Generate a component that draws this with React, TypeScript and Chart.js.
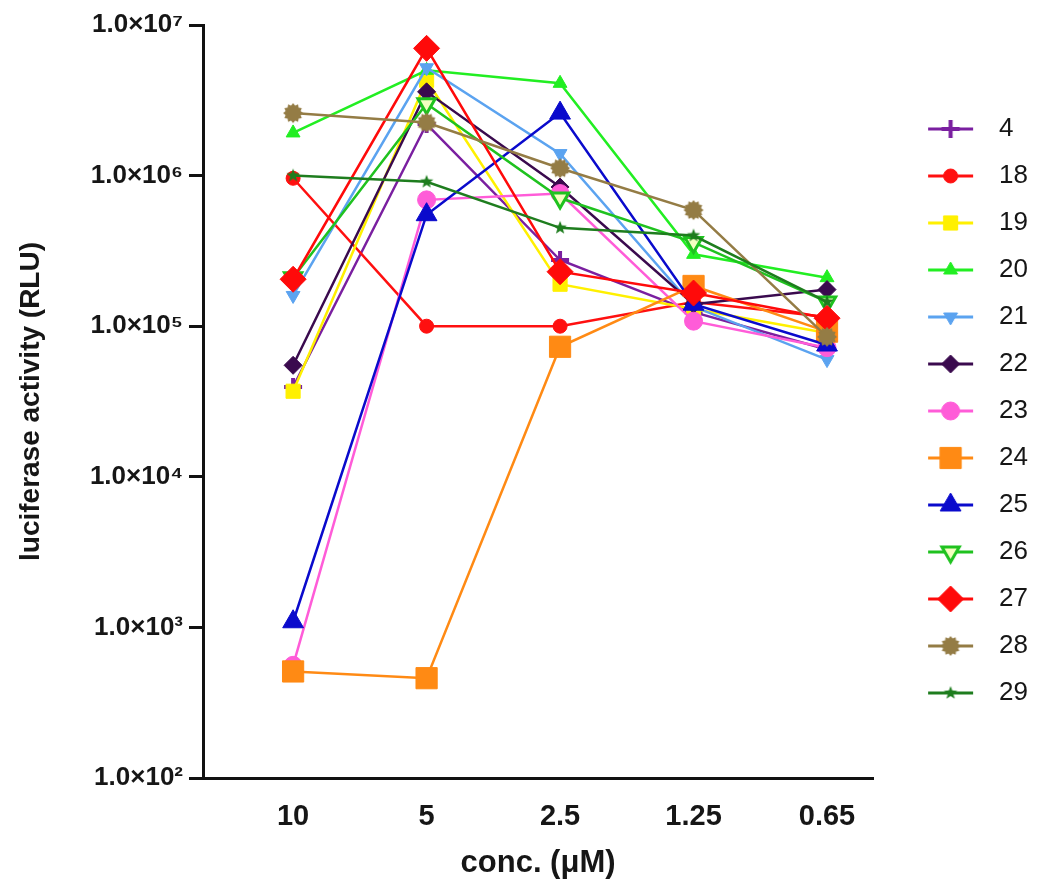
import React, { useEffect, useRef } from 'react';
import { Chart, registerables } from 'chart.js';
import { drawPoint } from 'chart.js/helpers';

Chart.register(...registerables);

// ---- data ----
const concentrations = ['10', '5', '2.5', '1.25', '0.65'];
const yTickValues = [1e2, 1e3, 1e4, 1e5, 1e6, 1e7];
const seriesNames = ['4', '18', '19', '20', '21', '22', '23', '24', '25', '26', '27', '28', '29'];

const compound4 = [3.95e4, 2.2e6, 2.75e5, 1.24e5, 7.0e4];
const compound18 = [9.6e5, 1.0e5, 1.0e5, 1.45e5, 1.15e5];
const compound19 = [3.7e4, 4.3e6, 1.9e5, 1.3e5, 9.0e4];
const compound20 = [1.92e6, 5.0e6, 4.1e6, 3.0e5, 2.1e5];
const compound21 = [1.6e5, 5.2e6, 1.4e6, 1.35e5, 6.0e4];
const compound22 = [5.5e4, 3.6e6, 8.4e5, 1.4e5, 1.75e5];
const compound23 = [5.6e2, 6.9e5, 7.6e5, 1.08e5, 7.2e4];
const compound24 = [5.1e2, 4.6e2, 7.3e4, 1.85e5, 9.2e4];
const compound25 = [1.09e3, 5.5e5, 2.6e6, 1.4e5, 7.5e4];
const compound26 = [2.1e5, 3.0e6, 7.1e5, 3.6e5, 1.45e5];
const compound27 = [2.05e5, 7.0e6, 2.3e5, 1.66e5, 1.13e5];
const compound28 = [2.6e6, 2.25e6, 1.12e6, 5.9e5, 8.5e4];
const compound29 = [1.0e6, 9.1e5, 4.5e5, 4.0e5, 1.45e5];

const seriesValues = [
  compound4, compound18, compound19, compound20, compound21, compound22, compound23,
  compound24, compound25, compound26, compound27, compound28, compound29,
];

// ---- styles ----
const seriesColors = [
  '#7A1FA0', '#FF1010', '#FFF000', '#22EE22', '#5BA3F0', '#3A0A4E', '#FF5CD8',
  '#FF8A14', '#0A0ACC', '#1FC21F', '#FF0A0A', '#947C45', '#1E7D1E',
];

type MarkerSpec = { style: string; radius: number; bw: number; rot: number; fill?: string };
const markerSpecs: MarkerSpec[] = [
  { style: 'cross', radius: 9, bw: 4, rot: 0 },
  { style: 'circle', radius: 7, bw: 1, rot: 0 },
  { style: 'rect', radius: 10, bw: 1, rot: 0 },
  { style: 'triangle', radius: 8, bw: 1, rot: 0 },
  { style: 'triangle', radius: 8, bw: 1, rot: 180 },
  { style: 'rectRot', radius: 9, bw: 1, rot: 0 },
  { style: 'circle', radius: 9, bw: 1, rot: 0 },
  { style: 'rect', radius: 15, bw: 1, rot: 0 },
  { style: 'triangle', radius: 12, bw: 1, rot: 0 },
  { style: 'triangle', radius: 10, bw: 3, rot: 180, fill: '#F4FFC0' },
  { style: 'rectRot', radius: 13, bw: 1, rot: 0 },
  { style: 'gear', radius: 10, bw: 0, rot: 0 },
  { style: 'star5', radius: 7, bw: 0, rot: 0 },
];

const FONT = '"Liberation Sans", Arial, sans-serif';
const TEXT = '#161616';
const SUP: Record<number, string> = { 2: '²', 3: '³', 4: '⁴', 5: '⁵', 6: '⁶', 7: '⁷' };

function makeStarCanvas(n: number, outer: number, inner: number, color: string) {
  const size = Math.ceil(outer * 2 + 4);
  const c = document.createElement('canvas');
  c.width = size;
  c.height = size;
  const ctx = c.getContext('2d')!;
  const cx = size / 2;
  ctx.beginPath();
  for (let k = 0; k < n * 2; k++) {
    const r = k % 2 === 0 ? outer : inner;
    const a = -Math.PI / 2 + (k * Math.PI) / n;
    const px = cx + r * Math.cos(a);
    const py = cx + r * Math.sin(a);
    if (k === 0) ctx.moveTo(px, py);
    else ctx.lineTo(px, py);
  }
  ctx.closePath();
  ctx.fillStyle = color;
  ctx.fill();
  return c;
}

function pointStyleFor(i: number): any {
  const m = markerSpecs[i];
  if (m.style === 'gear') return makeStarCanvas(12, m.radius, m.radius * 0.78, seriesColors[i]);
  if (m.style === 'star5') return makeStarCanvas(5, m.radius, m.radius * 0.42, seriesColors[i]);
  return m.style;
}

function makeLegendImage(i: number, ps: any) {
  const m = markerSpecs[i];
  const c = document.createElement('canvas');
  c.width = 92;
  c.height = 30;
  const ctx = c.getContext('2d')!;
  ctx.strokeStyle = seriesColors[i];
  ctx.lineWidth = 3;
  ctx.beginPath();
  ctx.moveTo(34, 15);
  ctx.lineTo(79, 15);
  ctx.stroke();
  ctx.fillStyle = m.fill || seriesColors[i];
  ctx.strokeStyle = seriesColors[i];
  ctx.lineWidth = m.bw;
  drawPoint(ctx, { pointStyle: ps, rotation: m.rot, radius: m.radius, borderWidth: m.bw } as any, 56.5, 15);
  return c;
}

export default function App() {
  const canvasRef = useRef<HTMLCanvasElement | null>(null);

  useEffect(() => {
    const canvas = canvasRef.current;
    if (!canvas) return;
    const styles = seriesValues.map((_, i) => pointStyleFor(i));
    const legendImages = seriesValues.map((_, i) => makeLegendImage(i, styles[i]));

    const datasets = seriesValues.map((vals, i) => ({
      label: seriesNames[i],
      data: vals.map((v, k) => ({ x: k, y: v })),
      borderColor: seriesColors[i],
      backgroundColor: seriesColors[i],
      borderWidth: 2.5,
      pointStyle: styles[i],
      pointRadius: markerSpecs[i].radius,
      pointRotation: markerSpecs[i].rot,
      pointBackgroundColor: markerSpecs[i].fill || seriesColors[i],
      pointBorderColor: seriesColors[i],
      pointBorderWidth: markerSpecs[i].bw,
      tension: 0,
      clip: false as any,
      order: -i,
    }));

    const chart = new Chart(canvas, {
      type: 'line',
      data: { datasets },
      options: {
        responsive: false,
        animation: false,
        events: [],
        layout: { padding: { top: 25, right: 12, bottom: 0, left: 0 } },
        plugins: {
          tooltip: { enabled: false },
          legend: {
            position: 'right',
            align: 'start',
            title: {
              display: true,
              text: ' ',
              font: { size: 10, lineHeight: 1 },
              padding: { top: 60, bottom: 0 },
            },
            labels: {
              usePointStyle: true,
              pointStyleWidth: 92,
              padding: 21,
              color: TEXT,
              font: { family: FONT, size: 26 },
              generateLabels: () =>
                seriesNames.map((name, i) => ({
                  text: name,
                  pointStyle: legendImages[i] as any,
                  fillStyle: 'rgba(0,0,0,0)',
                  strokeStyle: 'rgba(0,0,0,0)',
                  lineWidth: 0,
                  hidden: false,
                  datasetIndex: i,
                  fontColor: TEXT,
                })),
            },
          },
        },
        scales: {
          x: {
            type: 'linear',
            min: -0.675,
            max: 4.345,
            afterBuildTicks: (s: any) => {
              s.ticks = concentrations.map((_, i) => ({ value: i }));
            },
            afterFit: (s: any) => {
              s.height = 110;
            },
            ticks: {
              callback: (v: any) => concentrations[v] ?? '',
              color: TEXT,
              font: { family: FONT, size: 29, weight: 'bold' },
              padding: 22,
              autoSkip: false,
              maxRotation: 0,
            },
            grid: { display: false, drawTicks: false },
            border: { display: true, color: '#111', width: 3 },
            title: {
              display: true,
              text: 'conc. (μM)',
              color: TEXT,
              font: { family: FONT, size: 31, weight: 'bold' },
              padding: { top: 0, bottom: 6 },
            },
          },
          y: {
            type: 'logarithmic',
            min: 100,
            max: 1e7,
            afterBuildTicks: (s: any) => {
              s.ticks = yTickValues.map((v) => ({ value: v }));
            },
            afterFit: (s: any) => {
              s.width = 203;
            },
            ticks: {
              callback: (v: any) => '1.0×10' + SUP[Math.round(Math.log10(v))],
              color: TEXT,
              font: { family: FONT, size: 26, weight: 'bold' },
              padding: 6,
              autoSkip: false,
            },
            grid: {
              display: true,
              drawOnChartArea: false,
              drawTicks: true,
              tickLength: 14,
              tickWidth: 3,
              tickColor: '#111',
            },
            border: { display: true, color: '#111', width: 3 },
            title: {
              display: true,
              text: 'luciferase activity (RLU)',
              color: TEXT,
              font: { family: FONT, size: 28, weight: 'bold' },
              padding: { top: 14, bottom: 0 },
            },
          },
        },
      } as any,
    });
    return () => chart.destroy();
  }, []);

  return (
    <div style={{ position: 'absolute', left: 0, top: 0, width: 1050, height: 888, background: '#fff' }}>
      <canvas ref={canvasRef} width={1050} height={888} style={{ display: 'block' }} />
    </div>
  );
}
